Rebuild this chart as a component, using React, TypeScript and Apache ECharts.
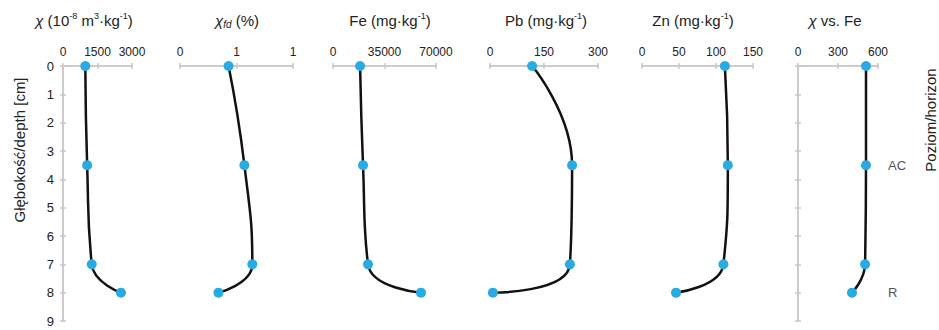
import React, { useEffect, useRef } from 'react';
import * as echarts from 'echarts';

// ---- data ----
const depths = [0, 3.5, 7, 8];
const depthTicks = [0, 1, 2, 3, 4, 5, 6, 7, 8, 9];
const chi = [970, 1050, 1250, 2520];
const chiFd = [0.43, 0.57, 0.64, 0.34];
const fe = [18400, 20400, 23800, 59800];
const pb = [117, 228, 222, 8];
const zn = [112, 116, 110, 46];
const chiVsFe = [510, 510, 503, 405];

const chiTicks = ['0', '1500', '3000'];
const chiFdTicks = ['0', '1', '1'];
const feTicks = ['0', '35000', '70000'];
const pbTicks = ['0', '150', '300'];
const znTicks = ['0', '50', '100', '150'];
const chiVsFeTicks = ['0', '300', '600'];

const horizonNames = ['AC', 'R'];
const horizonDepths = [3.5, 8];

const titles = [
  '{i|χ} (10{sup|-8} m{sup|3}·kg{sup|-1})',
  '{i|χ}{sub|fd} (%)',
  'Fe (mg·kg{sup|-1})',
  'Pb (mg·kg{sup|-1})',
  'Zn (mg·kg{sup|-1})',
  '{i|χ} vs. Fe',
];
const depthTitle = 'Głębokość/depth [cm]';
const horizonTitle = 'Poziom/horizon';

// ---- layout / style ----
const FONT = 'Liberation Sans, Arial, sans-serif';
const AXIS_COLOR = '#c9c9c9';
const TEXT_COLOR = '#222';
const DOT = '#29abe2';
const panels = [
  { values: chi, max: 3000, interval: 1500, ticks: chiTicks, left: 63, width: 69, title: titles[0], tx: 84 },
  { values: chiFd, max: 1, interval: 0.5, ticks: chiFdTicks, left: 180, width: 113, title: titles[1], tx: 237 },
  { values: fe, max: 70000, interval: 35000, ticks: feTicks, left: 333, width: 103, title: titles[2], tx: 390 },
  { values: pb, max: 300, interval: 150, ticks: pbTicks, left: 490, width: 108, title: titles[3], tx: 546 },
  { values: zn, max: 150, interval: 50, ticks: znTicks, left: 642, width: 111, title: titles[4], tx: 693 },
  { values: chiVsFe, max: 600, interval: 300, ticks: chiVsFeTicks, left: 798, width: 80, title: titles[5], tx: 835 },
];
const TOP = 66;
const HEIGHT = 255;

function buildOption(): any {
  const grid: any[] = [];
  const xAxis: any[] = [];
  const yAxis: any[] = [];
  const series: any[] = [];
  const lineStyle = { color: AXIS_COLOR, width: 1.5 };

  panels.forEach((p, i) => {
    grid.push({ left: p.left, top: TOP, width: p.width, height: HEIGHT, containLabel: false });
    const xBase = {
      gridIndex: i,
      type: 'value',
      position: 'top',
      min: 0,
      max: p.max,
      interval: p.interval,
      splitLine: { show: false },
      axisLine: { show: true, lineStyle },
    };
    xAxis.push({
      ...xBase,
      axisTick: { show: true, inside: false, length: 3, lineStyle },
      axisLabel: {
        show: true,
        margin: 8,
        color: TEXT_COLOR,
        fontSize: 12,
        fontFamily: FONT,
        formatter: (_v: number, idx: number) => p.ticks[idx] ?? '',
      },
    });
    xAxis.push({
      ...xBase,
      axisTick: { show: true, inside: true, length: 3, lineStyle },
      axisLabel: { show: false },
    });
    const showY = i === 0 || i === 5;
    const yBase = {
      gridIndex: i,
      type: 'value',
      inverse: true,
      min: depthTicks[0],
      max: depthTicks[depthTicks.length - 1],
      interval: 1,
      show: showY,
      position: i === 5 ? 'right' : 'left',
      splitLine: { show: false },
      axisLine: { show: true, lineStyle },
    };
    yAxis.push({
      ...yBase,
      axisTick: { show: true, inside: false, length: 3, lineStyle },
      axisLabel: {
        show: i === 0,
        margin: 9,
        color: TEXT_COLOR,
        fontSize: 13,
        fontFamily: FONT,
      },
    });
    yAxis.push({
      ...yBase,
      axisTick: { show: true, inside: true, length: 3, lineStyle },
      axisLabel: { show: false },
    });
    series.push({
      type: 'line',
      xAxisIndex: 2 * i,
      yAxisIndex: 2 * i,
      data: p.values.map((v, k) => [v, depths[k]]),
      smooth: 0.5,
      symbol: 'circle',
      symbolSize: 10,
      showAllSymbol: true,
      clip: false,
      itemStyle: { color: DOT },
      lineStyle: { color: '#111', width: 2.5 },
      z: 3,
    });
  });

  series.push({
    type: 'scatter',
    xAxisIndex: 10,
    yAxisIndex: 10,
    symbolSize: 0,
    clip: false,
    data: horizonNames.map((n, k) => ({ name: n, value: [panels[5].max, horizonDepths[k]] })),
    label: {
      show: true,
      position: 'right',
      distance: 10,
      formatter: '{b}',
      color: TEXT_COLOR,
      fontSize: 13,
      fontFamily: FONT,
    },
  });

  const rich = {
    i: { fontStyle: 'italic', fontSize: 15, fontFamily: FONT, fill: TEXT_COLOR, lineHeight: 18 },
    sup: { fontSize: 9, fontFamily: FONT, fill: TEXT_COLOR, verticalAlign: 'top', lineHeight: 9 },
    sub: { fontSize: 10, fontStyle: 'italic', fontFamily: FONT, fill: TEXT_COLOR, verticalAlign: 'bottom', lineHeight: 10 },
  };

  const graphic: any[] = panels.map((p) => ({
    type: 'text',
    x: p.tx,
    y: 20,
    style: {
      text: p.title,
      rich,
      fontSize: 15,
      lineHeight: 18,
      fontFamily: FONT,
      fill: TEXT_COLOR,
      align: 'center',
      verticalAlign: 'middle',
    },
  }));
  graphic.push({
    type: 'text',
    x: 19,
    y: 150,
    rotation: Math.PI / 2,
    style: { text: depthTitle, fontSize: 15, fontFamily: FONT, fill: TEXT_COLOR, align: 'center', verticalAlign: 'middle' },
  });
  graphic.push({
    type: 'text',
    x: 930,
    y: 120,
    rotation: Math.PI / 2,
    style: { text: horizonTitle, fontSize: 15, fontFamily: FONT, fill: TEXT_COLOR, align: 'center', verticalAlign: 'middle' },
  });

  return {
    animation: false,
    backgroundColor: '#ffffff',
    grid,
    xAxis,
    yAxis,
    series,
    graphic,
  };
}

export default function App() {
  const ref = useRef<HTMLDivElement>(null);
  useEffect(() => {
    const chart = echarts.init(ref.current!, null, { renderer: 'svg' });
    chart.setOption(buildOption());
    return () => chart.dispose();
  }, []);
  return <div ref={ref} style={{ position: 'fixed', left: 0, top: 0, width: 939, height: 330 }} />;
}
